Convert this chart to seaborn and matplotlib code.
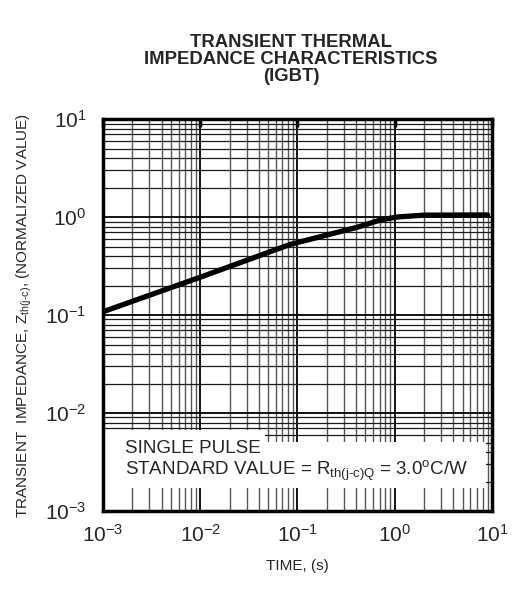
import numpy as np
import pandas as pd
import seaborn as sns
import matplotlib.pyplot as plt
import matplotlib as mpl
from matplotlib.patches import Rectangle

# values
time_s = [1e-3, 1e-2, 0.084, 0.183, 0.41, 0.705, 1.05, 2.0, 9.0]
zth = [0.108, 0.243, 0.525, 0.64, 0.785, 0.93, 1.0, 1.045, 1.05]

x_ticks = [1e-3, 1e-2, 1e-1, 1e0, 1e1]
x_tick_labels = ["$10^{-3}$", "$10^{-2}$", "$10^{-1}$", "$10^{0}$", "$10^{1}$"]
y_ticks = [1e-3, 1e-2, 1e-1, 1e0, 1e1]
y_tick_labels = ["$10^{-3}$", "$10^{-2}$", "$10^{-1}$", "$10^{0}$", "$10^{1}$"]

sns.set_theme(style="white")
plt.rcParams["font.family"] = ["Liberation Sans", "DejaVu Sans"]
mpl.rcParams.update(
    {
        "mathtext.fontset": "custom",
        "mathtext.rm": "Liberation Sans",
        "mathtext.it": "Liberation Sans",
        "mathtext.default": "regular",
    }
)

fig = plt.figure(figsize=(5.29, 5.99), dpi=100)
ax = fig.add_axes([0.1947, 0.1469, 0.7353, 0.6544])

df = pd.DataFrame({"time": time_s, "zth": zth})
sns.lineplot(data=df, x="time", y="zth", ax=ax, color="black", linewidth=3.8, zorder=5)

ax.set_xscale("log")
ax.set_yscale("log")
ax.set_xlim(1e-3, 1e1)
ax.set_ylim(1e-3, 1e1)

ax.set_xticks(x_ticks)
ax.set_xticklabels(x_tick_labels)
ax.set_yticks(y_ticks)
ax.set_yticklabels(y_tick_labels)
ax.xaxis.set_minor_locator(mpl.ticker.LogLocator(base=10, subs=np.arange(2, 10)))
ax.yaxis.set_minor_locator(mpl.ticker.LogLocator(base=10, subs=np.arange(2, 10)))
ax.xaxis.set_minor_formatter(mpl.ticker.NullFormatter())
ax.yaxis.set_minor_formatter(mpl.ticker.NullFormatter())

ax.tick_params(axis="both", which="major", direction="in", length=6, width=2.5,
               labelsize=15, top=True, right=False, color="black")
ax.tick_params(axis="x", which="major", pad=9)
ax.tick_params(axis="y", which="major", pad=12)
ax.tick_params(axis="both", which="minor", length=0)

ax.grid(True, which="major", color="black", linewidth=1.3)
ax.xaxis.grid(True, which="minor", color="#555555", linewidth=1.0)
ax.yaxis.grid(True, which="minor", color="#1a1a1a", linewidth=0.9)
ax.set_axisbelow(True)

for s in ax.spines.values():
    s.set_linewidth(2.5)
    s.set_color("black")

# white box behind the note
ax.add_patch(Rectangle((0.0, 0.059), 0.985, 0.117, transform=ax.transAxes,
                       facecolor="white", edgecolor="none", zorder=1))
ax.add_patch(Rectangle((0.0, 0.059), 0.416, 0.148, transform=ax.transAxes,
                       facecolor="white", edgecolor="none", zorder=1))
ax.text(0.056, 0.148, "SINGLE PULSE", transform=ax.transAxes, fontsize=13.5,
        va="baseline", ha="left", zorder=6)
ax.text(0.056, 0.092, "STANDARD VALUE = R$_{th(j\\text{-}c)Q}$ = 3.0$^{o}$C/W",
        transform=ax.transAxes, fontsize=13.5, va="baseline", ha="left", zorder=6)

ax.set_xlabel("TIME, (s)", fontsize=11, labelpad=10)
ax.set_ylabel("TRANSIENT  IMPEDANCE, Z$_{th(j\\text{-}c)}$, (NORMALIZED VALUE)", fontsize=11, labelpad=8)

fig.text(0.55, 0.90, "TRANSIENT THERMAL\nIMPEDANCE CHARACTERISTICS\n(IGBT)",
         ha="center", va="center", fontsize=13.3, fontweight="bold", linespacing=1.0)

fig.savefig("out.png", dpi=100)
